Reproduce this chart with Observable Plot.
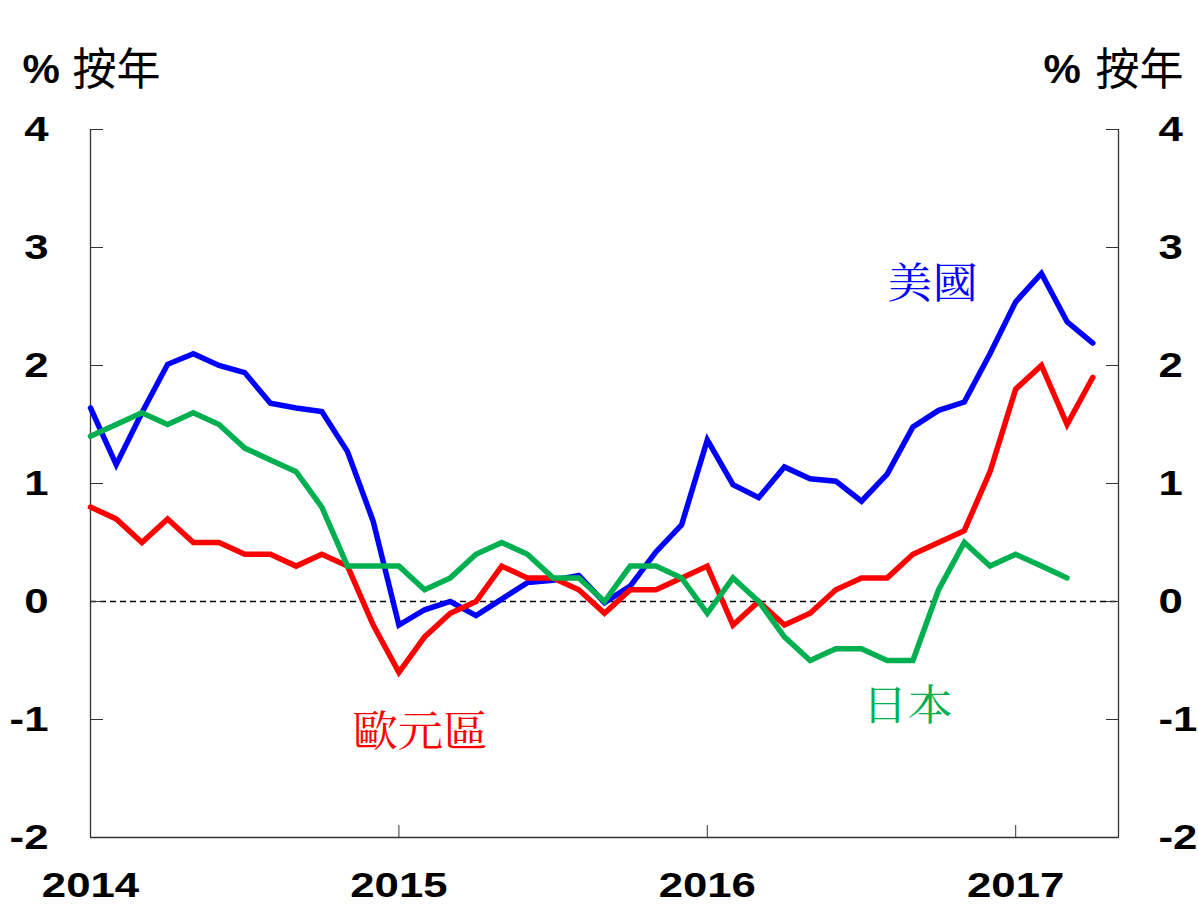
<!DOCTYPE html>
<html>
<head>
<meta charset="utf-8">
<script src="https://cdn.jsdelivr.net/npm/d3@7"></script>
<script src="https://cdn.jsdelivr.net/npm/@observablehq/plot@0.6"></script>
<style>
  body { margin: 0; background: #fff; }
</style>
</head>
<body>
<div id="chart"></div>
<script>
// ---- data ----
const startYear = 2014;
const yearTicks = [2014, 2015, 2016, 2017];
const yTicks = [-2, -1, 0, 1, 2, 3, 4];
const xDomain = [0, 40];      // months since Jan 2014
const yDomain = [-2, 4];

const seriesNames = ["美國", "歐元區", "日本"];
const seriesColors = ["#0000FF", "#FF0000", "#00B050"];

const usValues = [1.64, 1.16, 1.6, 2.01, 2.1, 2.0, 1.94, 1.68, 1.64, 1.61, 1.27, 0.68,
  -0.2, -0.07, 0.0, -0.12, 0.02, 0.16, 0.18, 0.22, -0.01, 0.13, 0.42, 0.65,
  1.37, 0.99, 0.88, 1.14, 1.04, 1.02, 0.85, 1.08, 1.48, 1.62, 1.69, 2.1,
  2.54, 2.78, 2.37, 2.19];
const euroValues = [0.8, 0.7, 0.5, 0.7, 0.5, 0.5, 0.4, 0.4, 0.3, 0.4, 0.3, -0.2,
  -0.6, -0.3, -0.1, 0.0, 0.3, 0.2, 0.2, 0.1, -0.1, 0.1, 0.1, 0.2,
  0.3, -0.2, 0.0, -0.2, -0.1, 0.1, 0.2, 0.2, 0.4, 0.5, 0.6, 1.1,
  1.8, 2.0, 1.5, 1.9];
const japanValues = [1.4, 1.5, 1.6, 1.5, 1.6, 1.5, 1.3, 1.2, 1.1, 0.8, 0.3, 0.3,
  0.3, 0.1, 0.2, 0.4, 0.5, 0.4, 0.2, 0.2, 0.0, 0.3, 0.3, 0.2,
  -0.1, 0.2, 0.0, -0.3, -0.5, -0.4, -0.4, -0.5, -0.5, 0.1, 0.5, 0.3,
  0.4, 0.3, 0.2];

// series label anchors (month index, value)
const seriesLabels = [
  {series: "美國", month: 32.76, value: 2.69},
  {series: "歐元區", month: 12.84, value: -1.11},
  {series: "日本", month: 31.79, value: -0.89}
];
const unitPercent = "%";
const unitText = "按年";

// ---- build table ----
const toRows = (vals, name) => vals.map((v, i) => ({month: i, value: v, series: name}));
const rows = [
  ...toRows(usValues, seriesNames[0]),
  ...toRows(euroValues, seriesNames[1]),
  ...toRows(japanValues, seriesNames[2])
];

const numFont = "'Liberation Sans', Arial, Helvetica, sans-serif";
const cjkFont = "'Noto Sans CJK TC', 'Noto Sans CJK SC', sans-serif";
const serifCjk = "'Noto Serif CJK TC', 'Noto Sans CJK TC', 'Noto Sans CJK SC', serif";

const numStyle = {fontSize: 35, fontWeight: "bold", fontFamily: numFont, label: null};

const chart = Plot.plot({
  width: 1198,
  height: 909,
  marginLeft: 90,
  marginRight: 80,
  marginTop: 129,
  marginBottom: 72,
  style: {background: "white", fontFamily: numFont, overflow: "visible"},
  x: {type: "linear", domain: xDomain},
  y: {type: "linear", domain: yDomain},
  color: {domain: seriesNames, range: seriesColors},
  marks: [
    Plot.ruleX(xDomain, {stroke: "#333", strokeWidth: 1.3}),
    Plot.ruleY([yDomain[0]], {stroke: "#333", strokeWidth: 1.3}),
    Plot.ruleY([0], {stroke: "#000", strokeWidth: 1.5, strokeDasharray: "6,4"}),
    Plot.line(rows, {x: "month", y: "value", z: "series", stroke: "series",
      strokeWidth: 5.5, strokeLinejoin: "miter", strokeMiterlimit: 4}),
    Plot.axisY({anchor: "left", ticks: yTicks, tickSize: -13, tickPadding: 55,
      tickFormat: d => String(d), stroke: "#333", ...numStyle}),
    Plot.axisY({anchor: "right", ticks: yTicks, tickSize: -13, tickPadding: 53,
      tickFormat: d => String(d), stroke: "#333", ...numStyle}),
    Plot.axisX({anchor: "bottom", ticks: yearTicks.map(y => (y - startYear) * 12),
      tickSize: -12, tickPadding: 47, tickFormat: d => String(startYear + d / 12),
      stroke: "#333", ...numStyle}),
    Plot.text(seriesLabels, {x: "month", y: "value", text: "series", fill: "series",
      fontSize: 42, fontFamily: serifCjk, textAnchor: "middle", lineAnchor: "middle"}),
    // unit labels, left
    Plot.text([unitPercent], {text: d => d, frameAnchor: "top-left", dx: -68, dy: -59,
      textAnchor: "start", lineAnchor: "middle", fontSize: 40, fontWeight: "bold", fontFamily: numFont}),
    Plot.text([unitText], {text: d => d, frameAnchor: "top-left", dx: -18, dy: -59,
      textAnchor: "start", lineAnchor: "middle", fontSize: 44, fontFamily: cjkFont}),
    // unit labels, right
    Plot.text([unitPercent], {text: d => d, frameAnchor: "top-right", dx: -75, dy: -59,
      textAnchor: "start", lineAnchor: "middle", fontSize: 40, fontWeight: "bold", fontFamily: numFont}),
    Plot.text([unitText], {text: d => d, frameAnchor: "top-right", dx: -23, dy: -59,
      textAnchor: "start", lineAnchor: "middle", fontSize: 44, fontFamily: cjkFont})
  ]
});

// horizontally stretch texts around their anchor to match the wide lettering of the reference
function stretchText(svg) {
  svg.querySelectorAll("text").forEach(el => {
    const s = el.textContent;
    let k = 1;
    if (/^[-\d.]+$/.test(s)) k = 1.25;
    else if (s === unitPercent) k = 1.05;
    else if (seriesNames.includes(s)) k = 1.08;
    if (k === 1) return;
    const t = el.getAttribute("transform");
    if (t == null) return;
    el.setAttribute("transform", `${t} scale(${k},1)`);
  });
}
stretchText(chart);

document.getElementById("chart").appendChild(chart);
</script>
</body>
</html>
